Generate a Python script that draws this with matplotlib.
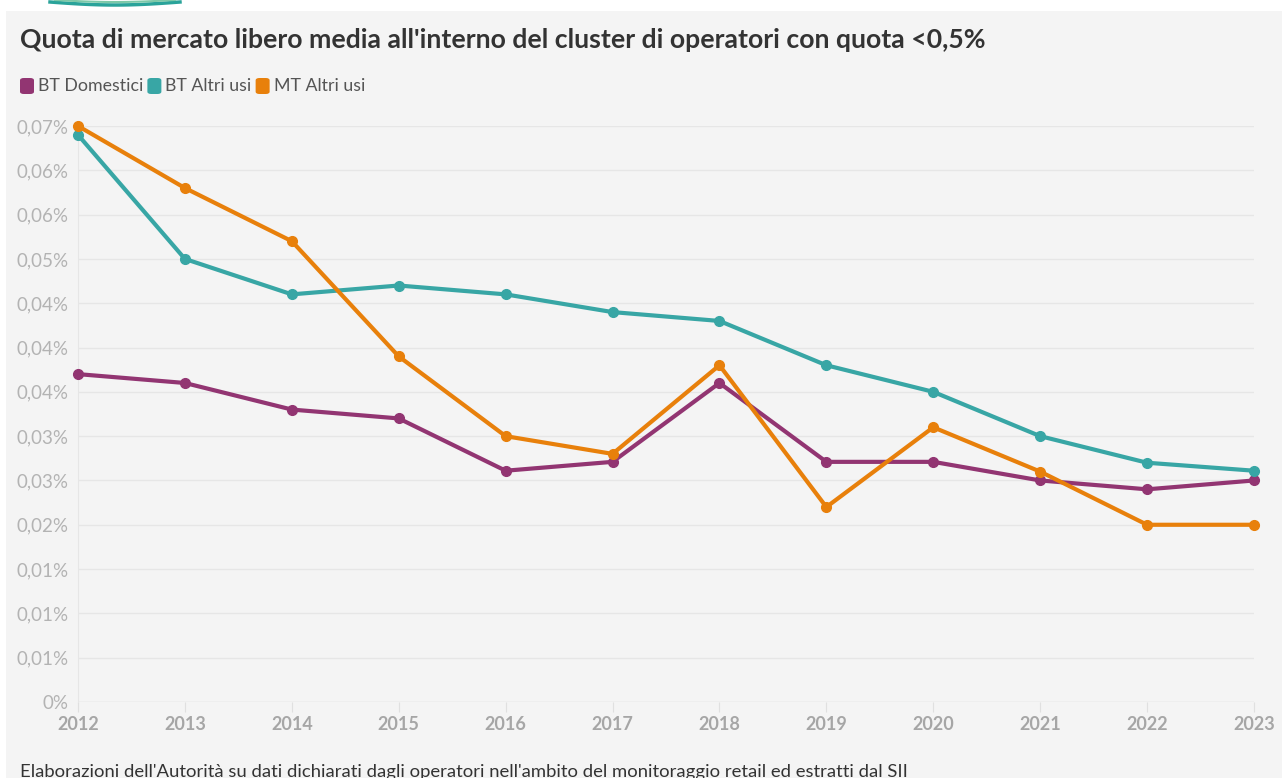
import matplotlib.pyplot as plt
import numpy as np
from matplotlib.patches import Rectangle, FancyBboxPatch

plt.rcParams['font.family'] = ['Lato', 'DejaVu Sans']

years = [2012, 2013, 2014, 2015, 2016, 2017, 2018, 2019, 2020, 2021, 2022, 2023]
bt_domestici = [0.0370, 0.0360, 0.0330, 0.0320, 0.0261, 0.0271, 0.0360, 0.0271, 0.0271, 0.0250, 0.0240, 0.0250]
bt_altri_usi = [0.0640, 0.0500, 0.0460, 0.0470, 0.0460, 0.0440, 0.0430, 0.0380, 0.0350, 0.0300, 0.0270, 0.0261]
mt_altri_usi = [0.0650, 0.0580, 0.0520, 0.0390, 0.0300, 0.0280, 0.0380, 0.0220, 0.0310, 0.0260, 0.0200, 0.0200]

y_ticks = [0, 0.005, 0.01, 0.015, 0.02, 0.025, 0.03, 0.035, 0.04, 0.045, 0.05, 0.055, 0.06, 0.065]
y_labels = ["0%", "0,01%", "0,01%", "0,01%", "0,02%", "0,03%", "0,03%",
            "0,04%", "0,04%", "0,04%", "0,05%", "0,06%", "0,06%", "0,07%"]

series = [("BT Domestici", bt_domestici, "#923572"),
          ("BT Altri usi", bt_altri_usi, "#38a6a5"),
          ("MT Altri usi", mt_altri_usi, "#e8800b")]

W, H = 1282, 778
fig = plt.figure(figsize=(W / 100, H / 100), dpi=100)
fig.patch.set_facecolor("white")

# grey panel behind everything
fig.patches.append(Rectangle((6 / W, 0), 1, 1 - 11 / H, transform=fig.transFigure,
                             facecolor="#f4f4f4", edgecolor="none", zorder=-5))

# logo fragment at the top
t = np.linspace(0, 1, 100)
fig.lines.append(plt.Line2D((50 + 130 * t) / W, 1 - (2 + 3 * np.sin(np.pi * t)) / H,
                            transform=fig.transFigure, color="#2aa39a", lw=2.5))
fig.lines.append(plt.Line2D((55 + 120 * t) / W, 1 - (0 + 2 * np.sin(np.pi * t)) / H,
                            transform=fig.transFigure, color="#7cc8a8", lw=1.5))

ax = fig.add_axes([78 / W, (H - 702) / H, (1254 - 78) / W, 576 / H])
ax.set_facecolor("none")
ax.set_zorder(2)

for name, vals, col in series:
    ax.plot(years, vals, color=col, lw=3, marker="o", markersize=7,
            clip_on=False, zorder=3, solid_joinstyle="round")

ax.set_xlim(2012, 2023)
ax.set_ylim(0, 0.065)
ax.set_yticks(y_ticks)
ax.set_yticklabels(y_labels)
ax.set_xticks(years)
ax.set_xticklabels([str(y) for y in years], fontweight="bold")
ax.grid(axis="y", color="#e6e6e6", lw=1)
for s in ["top", "right", "bottom"]:
    ax.spines[s].set_visible(False)
ax.spines["left"].set_color("#e6e6e6")
ax.tick_params(axis="y", length=0, pad=7, labelsize=13.5, labelcolor="#b3b3b3")
ax.tick_params(axis="x", length=7, color="#e0e0e0", pad=3, labelsize=13, labelcolor="#a6a6a6")
ax.axhline(0, color="#e6e6e6", lw=1, zorder=1)

fig.text(20 / W, 1 - 40 / H, "Quota di mercato libero media all'interno del cluster di operatori con quota <0,5%",
         fontsize=19.2, fontweight="bold", color="#333333", va="center")

# legend
x = 20
for name, vals, col in series:
    fig.patches.append(FancyBboxPatch((x / W, 1 - 94 / H), 14 / W, 16 / H,
                                      boxstyle="round,pad=0,rounding_size=0.003",
                                      transform=fig.transFigure, facecolor=col, edgecolor="none"))
    txt = fig.text((x + 18) / W, 1 - 86 / H, name, fontsize=12.8, color="#555555", va="center")
    fig.canvas.draw()
    bb = txt.get_window_extent()
    x = bb.x1 + 4

fig.text(20 / W, 1 - 772 / H,
         "Elaborazioni dell'Autorità su dati dichiarati dagli operatori nell'ambito del monitoraggio retail ed estratti dal SII",
         fontsize=13.3, color="#333333", va="center")

fig.savefig("out.png", dpi=100, facecolor=fig.get_facecolor())
